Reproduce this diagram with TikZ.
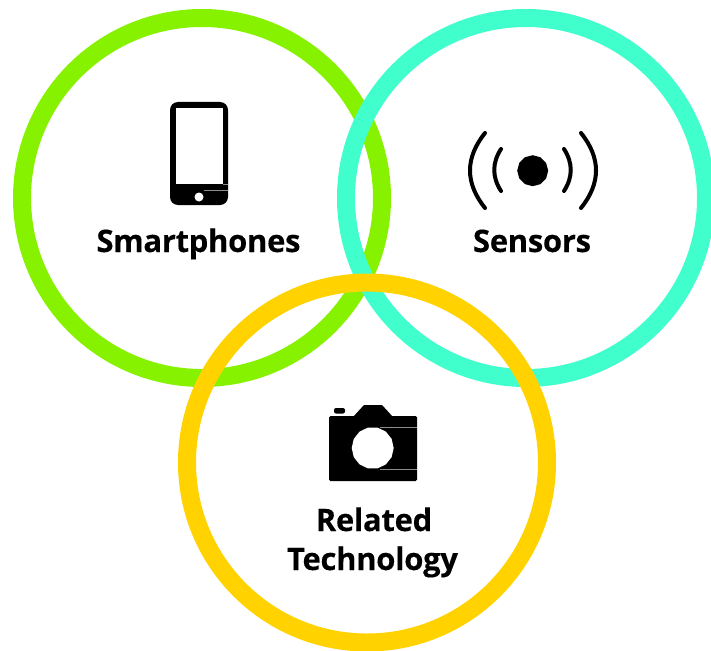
\documentclass[tikz,border=0pt]{standalone}
\usepackage{fontspec}
\setmainfont{Open Sans}[BoldFeatures={FakeBold=0.25,LetterSpace=-1}]
\definecolor{phonegreen}{HTML}{86F200}
\definecolor{sensorteal}{HTML}{40FFCC}
\definecolor{techyellow}{HTML}{FFD200}
\tikzset{
    ring/.style={circle,draw,line width=18pt,minimum size=360pt,inner sep=0pt,outer sep=0pt},
    caption/.style={font=\bfseries\fontsize{31}{39}\selectfont,inner sep=0pt,anchor=base,text=black},
    wave/.style={line width=4pt,line cap=round},
    hairline/.style={draw=black!45,line width=0.4pt}
}

\begin{document}
\begin{tikzpicture}[x=1pt,y=-1pt]
    \useasboundingbox (0,0) rectangle (711,650);
    \begin{scope}
        \clip (0,0) rectangle (711,650);
        \node[ring,draw=phonegreen] (smartphones) at (202,198) {};
        \node[ring,draw=sensorteal] (sensors) at (526,198) {};
        \node[ring,draw=techyellow] (technology) at (367,462.5) {};
    \end{scope}

    % phone
    \fill[rounded corners=8pt] (170,102) rectangle (228,205);
    \fill[white] (175.5,108) rectangle (223,184);
    \fill[white] (199,197) circle (4.5);
    \draw[hairline] (223,184) -- (228,184);
    \draw[hairline] (204,190) -- (228,190);

    % sensor
    \fill plot[samples=13,domain=0:360] ({532.7+15.5*cos(\x)},{170.7+15.5*sin(\x)}) -- cycle;
    \draw[wave] (485,133) .. controls (465,158) and (465,183) .. (485,208);
    \draw[wave] (501,149) .. controls (492,163) and (492,177) .. (501,191);
    \draw[wave] (564,149) .. controls (573,163) and (573,177) .. (564,191);
    \draw[wave] (581,133) .. controls (601,158) and (601,183) .. (581,208);

    % camera
    \fill[rounded corners=1.5pt] (329,416) rectangle (417,481);
    \fill (353,417) -- (364,405) -- (382,405) -- (393,417) -- cycle;
    \fill[rounded corners=2pt] (334,408) rectangle (345,413.5);
    \fill[white] plot[samples=15,domain=0:360] ({372.7+21*cos(\x)},{448+21*sin(\x)}) -- cycle;
    \draw[hairline] (380,427) -- (417,427);
    \draw[hairline] (380,469) -- (417,469);

    \node[caption] (smartphoneslabel) at (198.5,252) {Smartphones};
    \node[caption] (sensorslabel) at (532,252) {Sensors};
    \node[caption] (relatedlabel) at (374,531) {Related};
    \node[caption] (technologylabel) at (372.5,570) {Technology};
\end{tikzpicture}
\end{document}
